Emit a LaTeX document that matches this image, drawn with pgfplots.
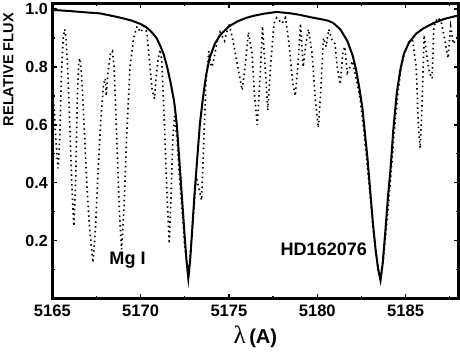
\documentclass[border=0pt]{standalone}
\usepackage{pgfplots}
\pgfplotsset{compat=1.18}
\usepackage{fontspec}
\setmainfont{Liberation Sans}
\newfontfamily\greekfont{Liberation Serif}

% model profile (solid)
\pgfplotstableread{
lam flux
5165.0 0.997
5166.0 0.993
5167.0 0.988
5167.7 0.985
5168.5 0.975
5169.0 0.968
5169.5 0.960
5170.0 0.948
5170.3 0.938
5170.6 0.922
5170.9 0.900
5171.1 0.875
5171.3 0.845
5171.5 0.800
5171.7 0.745
5171.9 0.680
5172.05 0.600
5172.2 0.470
5172.35 0.340
5172.5 0.210
5172.6 0.130
5172.7 0.070
5172.8 0.130
5172.9 0.220
5173.05 0.360
5173.2 0.480
5173.35 0.600
5173.5 0.680
5173.7 0.770
5173.9 0.830
5174.2 0.880
5174.5 0.910
5175.0 0.940
5175.5 0.958
5176.0 0.970
5176.5 0.978
5177.0 0.984
5177.7 0.990
5178.5 0.985
5179.0 0.980
5179.6 0.972
5180.2 0.965
5180.6 0.960
5180.9 0.952
5181.3 0.930
5181.7 0.890
5182.0 0.840
5182.2 0.790
5182.4 0.720
5182.55 0.660
5182.7 0.570
5182.85 0.480
5183.0 0.370
5183.15 0.260
5183.3 0.170
5183.45 0.100
5183.58 0.063
5183.7 0.120
5183.85 0.230
5184.0 0.350
5184.15 0.450
5184.3 0.580
5184.5 0.710
5184.7 0.790
5184.9 0.845
5185.2 0.885
5185.6 0.915
5186.0 0.933
5186.6 0.952
5187.2 0.966
5188.0 0.978
}\model

% observed spectrum (dotted)
\pgfplotstableread{
lam flux
5165.0 0.72
5165.1 0.66
5165.2 0.55
5165.32 0.45
5165.42 0.55
5165.52 0.78
5165.62 0.90
5165.70 0.93
5165.78 0.90
5165.9 0.75
5166.0 0.58
5166.1 0.40
5166.22 0.25
5166.32 0.40
5166.42 0.70
5166.5 0.82
5166.56 0.83
5166.65 0.78
5166.8 0.60
5166.95 0.40
5167.1 0.25
5167.3 0.125
5167.45 0.25
5167.6 0.45
5167.75 0.62
5167.9 0.74
5168.0 0.76
5168.05 0.70
5168.15 0.78
5168.3 0.85
5168.4 0.855
5168.5 0.80
5168.65 0.55
5168.8 0.30
5168.92 0.17
5169.05 0.30
5169.2 0.55
5169.4 0.80
5169.6 0.90
5169.8 0.94
5170.0 0.92
5170.2 0.94
5170.35 0.92
5170.5 0.82
5170.65 0.72
5170.78 0.69
5170.9 0.78
5171.0 0.83
5171.1 0.86
5171.2 0.82
5171.35 0.60
5171.5 0.35
5171.62 0.19
5171.72 0.35
5171.82 0.55
5171.92 0.63
5172.05 0.56
5172.2 0.42
5172.35 0.30
5172.5 0.18
5172.7 0.08
5172.85 0.18
5173.0 0.30
5173.15 0.42
5173.3 0.38
5173.45 0.34
5173.55 0.50
5173.7 0.75
5173.86 0.855
5174.0 0.80
5174.1 0.81
5174.3 0.88
5174.5 0.92
5174.75 0.89
5175.0 0.95
5175.2 0.90
5175.5 0.80
5175.75 0.72
5175.95 0.82
5176.1 0.92
5176.3 0.85
5176.45 0.70
5176.6 0.60
5176.75 0.75
5176.9 0.94
5177.05 0.80
5177.2 0.65
5177.35 0.80
5177.55 0.95
5177.7 0.97
5178.0 0.95
5178.2 0.97
5178.4 0.88
5178.6 0.75
5178.75 0.70
5178.9 0.80
5179.05 0.95
5179.2 0.80
5179.35 0.88
5179.5 0.93
5179.7 0.85
5179.9 0.68
5180.06 0.59
5180.2 0.72
5180.35 0.90
5180.5 0.87
5180.65 0.93
5180.85 0.89
5181.0 0.88
5181.15 0.79
5181.3 0.74
5181.45 0.85
5181.55 0.87
5181.7 0.78
5181.85 0.80
5182.0 0.82
5182.2 0.76
5182.4 0.70
5182.6 0.60
5182.8 0.48
5183.0 0.35
5183.2 0.22
5183.4 0.12
5183.58 0.07
5183.75 0.14
5183.9 0.24
5184.05 0.34
5184.2 0.45
5184.35 0.57
5184.55 0.70
5184.75 0.80
5184.95 0.85
5185.2 0.89
5185.4 0.89
5185.6 0.80
5185.72 0.60
5185.82 0.52
5185.92 0.65
5186.05 0.91
5186.2 0.84
5186.35 0.78
5186.5 0.76
5186.6 0.94
5186.8 0.97
5187.0 0.96
5187.2 0.90
5187.4 0.83
5187.55 0.94
5187.7 0.88
5187.9 0.90
}\observed

\begin{document}
\begin{tikzpicture}
\begin{axis}[
  scale only axis,
  width=403bp, height=293bp,
  xmin=5165, xmax=5188, ymin=0, ymax=1.02,
  xtick={5165,5170,5175,5180,5185},
  minor xtick={5167.5,5172.5,5177.5,5182.5,5187.5},
  ytick={0.2,0.4,0.6,0.8,1.0},
  minor ytick={0.1,0.3,0.5,0.7,0.9},
  tick align=inside,
  major tick length=5bp, minor tick length=3bp,
  every tick/.style={black, line width=1.3bp},
  axis line style={line width=2.8bp},
  /pgf/number format/assume math mode=true,
  xticklabel style={/pgf/number format/1000 sep={}, font=\bfseries\fontsize{16.5}{16.5}\selectfont, yshift=-3bp},
  yticklabel style={/pgf/number format/fixed, /pgf/number format/precision=1, /pgf/number format/fixed zerofill, font=\bfseries\fontsize{16}{16}\selectfont, xshift=-1bp},
  ylabel={RELATIVE FLUX},
  ylabel style={at={(axis description cs:-0.108,0.775)}, anchor=center, font=\bfseries\fontsize{14.5}{14.5}\selectfont},
  xlabel={{\mdseries\greekfont\fontsize{25}{25}\selectfont λ}\,(A)},
  xlabel style={at={(axis description cs:0.5,0)}, anchor=center, yshift=-38bp, font=\bfseries\fontsize{20}{20}\selectfont},
  clip=true,
]
\addplot[black, line width=1.6bp, dash pattern=on 1.5bp off 3.3bp] table[x=lam, y=flux] {\observed};
\addplot[black, line width=2bp] table[x=lam, y=flux] {\model};
\node[font=\bfseries\fontsize{18}{18}\selectfont] at (axis cs:5169.26,0.134) {Mg I};
\node[font=\bfseries\fontsize{18}{18}\selectfont] at (axis cs:5180.37,0.169) {HD162076};
\end{axis}
\end{tikzpicture}
\end{document}
